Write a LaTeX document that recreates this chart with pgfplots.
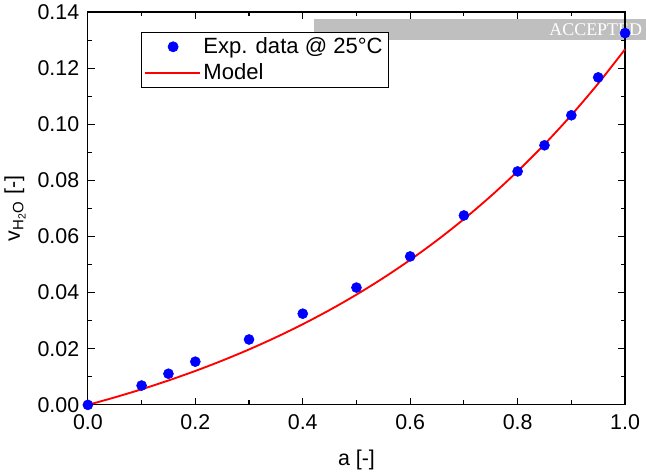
\documentclass[border=0pt]{standalone}
\usepackage{fontspec}
\setmainfont{Liberation Sans}
\newfontfamily\wmfont{Liberation Serif}
\usepackage{pgfplots}
\pgfplotsset{compat=1.18}
\pgfplotsset{
  dotlegend/.style={legend image code/.code={\draw[##1] plot coordinates {(21pt,0pt)};}},
  linelegend/.style={legend image code/.code={\draw[##1] (0pt,0pt) -- (41pt,0pt);}},
}
\begin{document}
\begin{tikzpicture}
\begin{axis}[
  set layers,
  width=402pt, height=294pt, scale only axis,
  xmin=0, xmax=1, ymin=0, ymax=0.14,
  xtick={0,0.2,0.4,0.6,0.8,1.0},
  ytick={0,0.02,0.04,0.06,0.08,0.10,0.12,0.14},
  minor x tick num=1, minor y tick num=1,
  tick align=inside,
  major tick length=5.5pt, minor tick length=3.3pt,
  axis line style={line width=0.9pt},
  every tick/.style={black, line width=0.8pt},
  font=\fontsize{16}{19}\selectfont,
  xticklabel style={yshift=-4pt, /pgf/number format/.cd, fixed, fixed zerofill, precision=1, assume math mode=true},
  yticklabel style={xshift=-3pt, /pgf/number format/.cd, fixed, fixed zerofill, precision=2, assume math mode=true},
  xlabel={a [-]},
  xlabel style={yshift=-8pt},
  ylabel={v\textsubscript{H\textsubscript{2}O} [-]},
  ylabel style={yshift=2pt},
  clip=false,
  legend style={at={(rel axis cs:0.099,0.949)}, anchor=north west, draw=black,
    line width=0.6pt, font=\fontsize{16.5}{19}\selectfont, inner sep=2pt, row sep=2pt},
  legend cell align=left,
]
\begin{pgfonlayer}{axis background}
\fill[gray!50] (axis cs:0.4216,0.1300) rectangle (axis cs:1.039,0.1375);
\node[anchor=east, white, inner sep=0pt, font=\wmfont\fontsize{13.4}{15}\selectfont]
  at (axis cs:1.032,0.13375) {ACCEPTED};
\end{pgfonlayer}

% experimental points
\addplot[only marks, mark=*, mark size=3.75pt, color=blue, dotlegend]
  coordinates {
  (0,0) (0.1,0.0069) (0.15,0.0111) (0.2,0.0154) (0.3,0.0233)
  (0.4,0.0325) (0.5,0.0418) (0.6,0.0529) (0.7,0.0675) (0.8,0.0832)
  (0.85,0.0925) (0.9,0.1032) (0.95,0.1167) (1.0,0.1325)
};
\addlegendentry{Exp. data @ 25°C}

% model curve
\addplot[red, line width=1.4pt, smooth, linelegend]
  coordinates {
  (0,0) (0.05,0.00267) (0.1,0.00556) (0.15,0.00870) (0.2,0.01209)
  (0.25,0.01577) (0.3,0.01975) (0.35,0.02407) (0.4,0.02874) (0.45,0.03380)
  (0.5,0.03929) (0.55,0.04523) (0.6,0.05167) (0.65,0.05865) (0.7,0.06620)
  (0.75,0.07438) (0.8,0.08325) (0.85,0.09285) (0.9,0.10326) (0.95,0.11452)
  (1.0,0.12673)
};
\addlegendentry{Model}
\end{axis}
\end{tikzpicture}
\end{document}
